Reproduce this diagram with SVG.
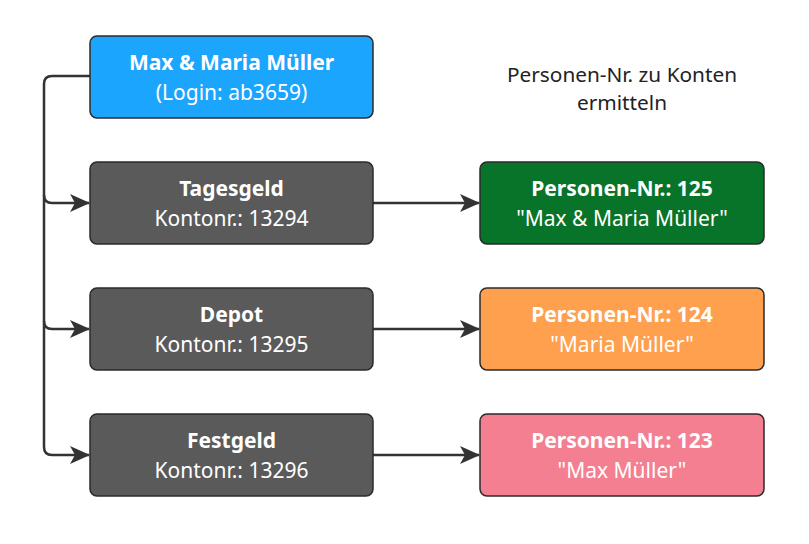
<svg xmlns="http://www.w3.org/2000/svg" width="809" height="544" viewBox="0 0 809 544">
<style>
.n{stroke:#2b2b2b;stroke-width:1.5}
.t{font-family:"Noto Sans","Open Sans",sans-serif;font-size:21px;fill:#fff;text-anchor:middle}
.b{font-weight:bold}
.c{fill:none;stroke:#333;stroke-width:2.5}
.lbl{font-family:"Noto Sans","Open Sans",sans-serif;font-size:20.8px;fill:#222;text-anchor:middle}
</style>
<defs>
<marker id="ah" markerWidth="20" markerHeight="20" refX="19" refY="10" orient="auto" markerUnits="userSpaceOnUse">
<path d="M0,1 L20,10 L0,19 L5,10 z" fill="#333"/>
</marker>
</defs>
<rect width="809" height="544" fill="#fff"/>
<g id="connectors">
<path class="c" d="M90,76 H52 Q44,76 44,84 V195 Q44,203 52,203 H89" marker-end="url(#ah)"/>
<path class="c" d="M44,195 V321 Q44,329 52,329 H89" marker-end="url(#ah)"/>
<path class="c" d="M44,321 V447 Q44,455 52,455 H89" marker-end="url(#ah)"/>
<path class="c" d="M373,203 H479" marker-end="url(#ah)"/>
<path class="c" d="M373,329 H479" marker-end="url(#ah)"/>
<path class="c" d="M373,455 H479" marker-end="url(#ah)"/>
</g>
<g id="login">
<rect class="n" x="90" y="36" width="283" height="82" rx="7" fill="#1ba5fd"/>
<text class="t b" x="231.5" y="70">Max &amp; Maria Müller</text>
<text class="t" x="231.5" y="100">(Login: ab3659)</text>
</g>
<g id="tagesgeld">
<rect class="n" x="90" y="162" width="283" height="82" rx="7" fill="#5a5a5a"/>
<text class="t b" x="231.5" y="196">Tagesgeld</text>
<text class="t" x="231.5" y="226">Kontonr.: 13294</text>
</g>
<g id="depot">
<rect class="n" x="90" y="288" width="283" height="82" rx="7" fill="#5a5a5a"/>
<text class="t b" x="231.5" y="322">Depot</text>
<text class="t" x="231.5" y="352">Kontonr.: 13295</text>
</g>
<g id="festgeld">
<rect class="n" x="90" y="414" width="283" height="82" rx="7" fill="#5a5a5a"/>
<text class="t b" x="231.5" y="448">Festgeld</text>
<text class="t" x="231.5" y="478">Kontonr.: 13296</text>
</g>
<g id="p125">
<rect class="n" x="480" y="162" width="284" height="82" rx="7" fill="#077429"/>
<text class="t b" x="622" y="196">Personen-Nr.: 125</text>
<text class="t" x="622" y="226">"Max &amp; Maria Müller"</text>
</g>
<g id="p124">
<rect class="n" x="480" y="288" width="284" height="82" rx="7" fill="#fea04e"/>
<text class="t b" x="622" y="322">Personen-Nr.: 124</text>
<text class="t" x="622" y="352">"Maria Müller"</text>
</g>
<g id="p123">
<rect class="n" x="480" y="414" width="284" height="82" rx="7" fill="#f37f90"/>
<text class="t b" x="622" y="448">Personen-Nr.: 123</text>
<text class="t" x="622" y="478">"Max Müller"</text>
</g>
<g id="label">
<text class="lbl" x="622" y="82">Personen-Nr. zu Konten</text>
<text class="lbl" x="622" y="110">ermitteln</text>
</g>
</svg>
